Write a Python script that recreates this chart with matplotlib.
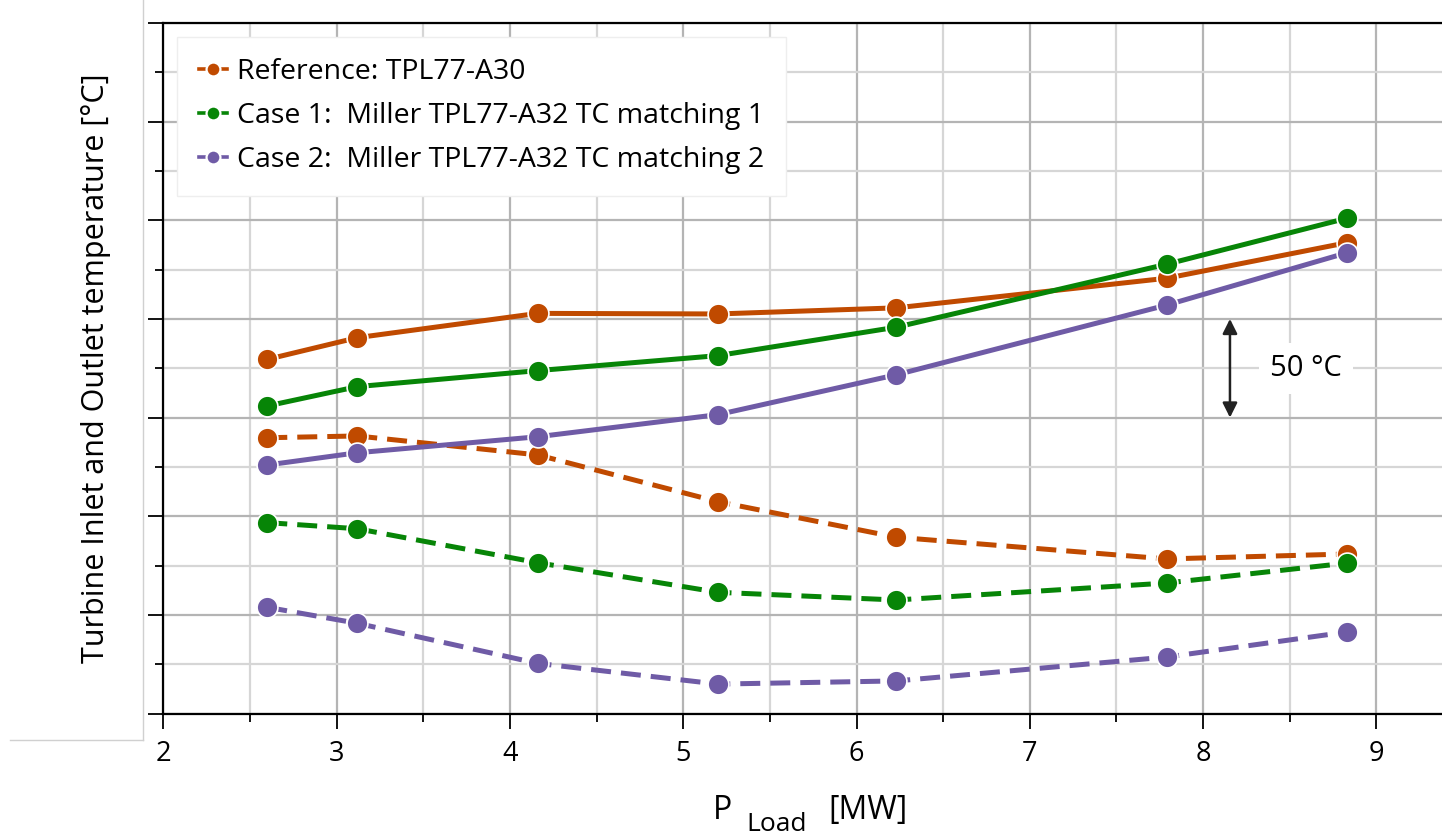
import matplotlib
matplotlib.use("Agg")
import matplotlib.pyplot as plt
from matplotlib.lines import Line2D
from matplotlib.ticker import MultipleLocator, NullFormatter

plt.rcParams['font.family'] = ['Open Sans', 'DejaVu Sans']

# --- Data ---
p_load = [2.6, 3.12, 4.16, 5.2, 6.23, 7.79, 8.83]

# turbine inlet (solid) and outlet (dashed) temperatures, degC (offset arbitrary)
ref_inlet = [429.5, 440.5, 452.8, 452.5, 455.6, 470.6, 488.6]
case1_inlet = [405.9, 415.7, 423.8, 431.4, 445.8, 477.7, 501.0]
case2_inlet = [376.0, 382.2, 390.3, 401.5, 421.7, 457.0, 483.5]

ref_outlet = [389.8, 390.7, 381.1, 357.4, 339.4, 328.4, 330.9]
case1_outlet = [346.8, 343.7, 326.5, 311.5, 307.6, 316.2, 326.3]
case2_outlet = [303.9, 295.8, 275.5, 265.0, 266.6, 278.7, 291.4]

labels = ["Reference: TPL77-A30",
          "Case 1:  Miller TPL77-A32 TC matching 1",
          "Case 2:  Miller TPL77-A32 TC matching 2"]
colors = ["#C04A00", "#078507", "#6F5BA6"]

W, H = 1442, 835
fig = plt.figure(figsize=(W / 100, H / 100), dpi=100)
ax = fig.add_axes([163.3 / W, (H - 713.7) / H, (W - 163.3) / W, (713.7 - 22.8) / H])

series = [(ref_inlet, ref_outlet), (case1_inlet, case1_outlet), (case2_inlet, case2_outlet)]
handles = []
for (inlet, outlet), c, lab in zip(series, colors, labels):
    style = dict(color=c, lw=3.6, marker='o', ms=15, mfc=c, mec='white', mew=1.2, zorder=3)
    ax.plot(p_load, inlet, ls='-', **style)
    ax.plot(p_load, outlet, ls=(0, (4, 2)), **style)
    handles.append(Line2D([], [], color=c, lw=2.6, ls='-', marker='o', ms=10,
                          mfc=c, mec='white', mew=1.6, label=lab))

ax.set_xlim(2, 2 + (W - 163.3) / 173.3)
ax.set_ylim(250, 600)
ax.xaxis.set_major_locator(MultipleLocator(1))
ax.xaxis.set_minor_locator(MultipleLocator(0.5))
ax.yaxis.set_major_locator(MultipleLocator(50))
ax.yaxis.set_minor_locator(MultipleLocator(25))
ax.yaxis.set_major_formatter(NullFormatter())

ax.grid(which='major', color='#b4b4b4', lw=1.6, zorder=0)
ax.grid(which='minor', color='#d6d6d6', lw=1.6, zorder=0)
ax.set_axisbelow(True)

for s in ['left', 'bottom', 'top']:
    ax.spines[s].set_linewidth(1.6)
    ax.spines[s].set_color('black')
ax.spines['right'].set_visible(False)

ax.tick_params(which='major', length=11, width=1.3, direction='out', labelsize=19.5, pad=8)
ax.tick_params(which='minor', length=6, width=1.3, direction='out')

ax.set_ylabel("Turbine Inlet and Outlet temperature [°C]", fontsize=22, labelpad=19)

# x label: P_Load [MW]
fig.text(713 / W, (H - 819) / H, "P", fontsize=23, va='baseline', ha='left')
fig.text(746 / W, (H - 831) / H, "Load", fontsize=19, va='baseline', ha='left')
fig.text(828 / W, (H - 819) / H, "[MW]", fontsize=23, va='baseline', ha='left')

# 50 degC scale arrow
ax.annotate("", xy=(8.155, 450), xytext=(8.155, 400),
            arrowprops=dict(arrowstyle='<|-|>', color='#222222', lw=1.8,
                            mutation_scale=22, shrinkA=0, shrinkB=0))
ax.text(8.594, 425, "50 °C", fontsize=21, ha='center', va='center',
        bbox=dict(facecolor='white', edgecolor='none', pad=8))

leg = ax.legend(handles=handles, loc='upper left', bbox_to_anchor=(0.011, 0.98),
                borderaxespad=0, fontsize=20.5, fancybox=False, framealpha=1,
                edgecolor='#eeeeee', handlelength=1.0, handletextpad=0.35,
                labelspacing=0.57, borderpad=0.75)
leg.set_zorder(5)

# light frame left over from the source image
fig.add_artist(Line2D([143 / W, 143 / W], [(H - 740) / H, 1], color='#d0d0d0', lw=1))
fig.add_artist(Line2D([10 / W, 143 / W], [(H - 740) / H, (H - 740) / H], color='#d0d0d0', lw=1))

fig.savefig("out.png", dpi=100)
